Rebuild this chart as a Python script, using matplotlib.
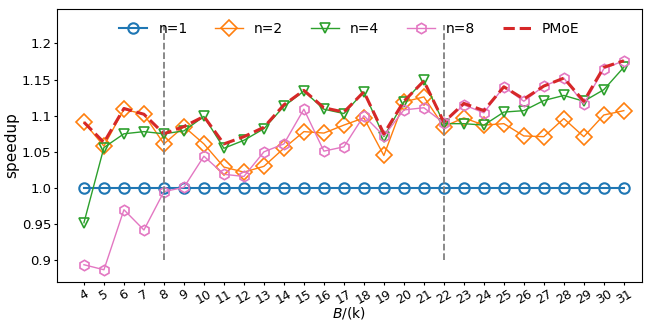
import numpy as np
import matplotlib
matplotlib.use("Agg")
import matplotlib.pyplot as plt

B = list(range(4, 32))

n1 = [1.0] * len(B)
n2 = [1.091, 1.058, 1.109, 1.102, 1.061, 1.085, 1.061, 1.029, 1.022, 1.030,
      1.055, 1.078, 1.076, 1.087, 1.097, 1.045, 1.119, 1.126, 1.085, 1.097,
      1.087, 1.089, 1.072, 1.071, 1.096, 1.071, 1.101, 1.107]
n4 = [0.952, 1.056, 1.075, 1.078, 1.075, 1.079, 1.099, 1.055, 1.066, 1.082,
      1.113, 1.134, 1.109, 1.103, 1.133, 1.071, 1.119, 1.149, 1.089, 1.089,
      1.087, 1.105, 1.107, 1.121, 1.128, 1.120, 1.136, 1.167]
n8 = [0.894, 0.887, 0.970, 0.942, 0.995, 1.001, 1.044, 1.019, 1.016, 1.050,
      1.061, 1.109, 1.051, 1.057, 1.100, 1.072, 1.108, 1.111, 1.090, 1.115,
      1.104, 1.140, 1.120, 1.141, 1.152, 1.116, 1.165, 1.176]
pmoe = [1.091, 1.063, 1.110, 1.102, 1.075, 1.085, 1.099, 1.061, 1.071, 1.084,
        1.115, 1.135, 1.111, 1.105, 1.133, 1.075, 1.120, 1.148, 1.091, 1.117,
        1.107, 1.140, 1.123, 1.141, 1.152, 1.120, 1.167, 1.176]

fig, ax = plt.subplots(figsize=(6.47, 3.22), dpi=100)
fig.subplots_adjust(left=0.088, right=0.992, top=0.972, bottom=0.124)

ms = 7.5
ax.plot(B, n1, marker='o', color='C0', lw=1.5, ms=ms, fillstyle='none', mew=1.5, label='n=1')
ax.plot(B, n2, marker='D', color='C1', lw=1, ms=8.5, fillstyle='none', mew=1.2, label='n=2')
ax.plot(B, n4, marker='v', color='C2', lw=1, ms=ms, fillstyle='none', mew=1.2, label='n=4')
ax.plot(B, n8, marker='h', color='C6', lw=1, ms=ms, fillstyle='none', mew=1.2, label='n=8')
ax.plot(B, pmoe, '--', color='C3', lw=2.2, label='PMoE')

for b in [8, 22]:
    ax.vlines(b, 0.9, 1.225, colors='gray', linestyles='--', lw=1.3)

ax.set_xlim(2.65, 31.9)
ax.set_ylim(0.87, 1.2475)
ax.set_xticks(B)
ax.set_xticklabels([str(b) for b in B], rotation=30, fontsize=9)
ax.set_yticks([0.9, 0.95, 1.0, 1.05, 1.1, 1.15, 1.2])
ax.set_yticklabels(['0.9', '0.95', '1.0', '1.05', '1.1', '1.15', '1.2'], fontsize=9.5)
ax.tick_params(axis='both', length=2.5, pad=1.5)
ax.set_xlabel(r'$B$/(k)', fontsize=10, labelpad=-1.5)
ax.set_ylabel('speedup', fontsize=11, labelpad=2)
ax.legend(loc='upper center', ncol=5, frameon=False, fontsize=10)

fig.savefig('out.png')
